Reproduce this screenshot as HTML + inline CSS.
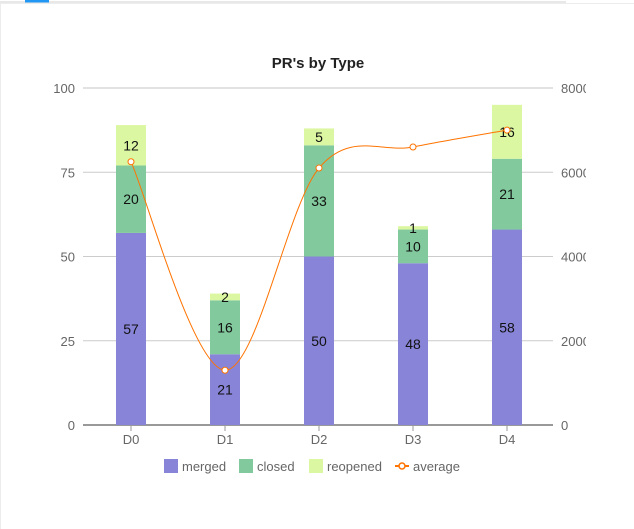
<!DOCTYPE html>
<html><head><meta charset="utf-8"><style>
html,body{margin:0;padding:0;background:#fff;width:634px;height:529px;overflow:hidden}
svg{font-family:"Liberation Sans",Roboto,sans-serif}
</style></head><body>
<svg width="634" height="529" id="c">
<defs><clipPath id="clip"><rect x="0" y="0" width="586" height="529"/></clipPath></defs>
<rect x="0.5" y="3.5" width="640" height="530" fill="#fff" stroke="#ececec"/>
<line x1="0" y1="2" x2="566" y2="2" stroke="#e8e8e8" stroke-width="2"/>
<rect x="25" y="0" width="24" height="2.5" fill="#2196f3"/>
<text x="318" y="68" text-anchor="middle" font-size="15" font-weight="bold" fill="#222">PR's by Type</text>
<g id="grid"></g><g id="bars"></g><g id="line"></g><g id="axes" clip-path="url(#clip)"></g>
<g font-size="13" fill="#666">
<g><rect x="164" y="459" width="14" height="14" fill="#8884d8"/><text x="182" y="471" fill="#666">merged</text></g>
<g><rect x="239" y="459" width="14" height="14" fill="#82ca9d"/><text x="257" y="471" fill="#666">closed</text></g>
<g><rect x="309" y="459" width="14" height="14" fill="#dcf7a1"/><text x="327" y="471" fill="#666">reopened</text></g>
<g><line x1="395" y1="466" x2="409" y2="466" stroke="#ff7300" stroke-width="2"/><circle cx="402" cy="466" r="3" fill="#fff" stroke="#ff7300" stroke-width="1.5"/><text x="413" y="471" fill="#666">average</text></g>
</g>
</svg>
<script>
const categories=["D0","D1","D2","D3","D4"];
const merged=[57,21,50,48,58];
const closed=[20,16,33,10,21];
const reopened=[12,2,5,1,16];
const average=[6250,1300,6100,6600,7000];
const leftTicks=[0,25,50,75,100];
const rightTicks=[0,2000,4000,6000,8000];
const NS="http://www.w3.org/2000/svg";
const x0=83,x1=553,yTop=88,yBot=425;
const band=(x1-x0)/categories.length;
const xS=i=>x0+band*(i+0.5)+1;
const yL=v=>yBot-(v/100)*(yBot-yTop);
const yR=v=>yBot-(v/8000)*(yBot-yTop);
function mk(t,a,p){const e=document.createElementNS(NS,t);for(const k in a)e.setAttribute(k,a[k]);(p||document.getElementById('c')).appendChild(e);return e;}
const grid=document.getElementById('grid'),axes=document.getElementById('axes'),bars=document.getElementById('bars'),lg=document.getElementById('line');
leftTicks.forEach((t,i)=>{
 const g=mk('line',{x1:x0,x2:x1,y1:yL(t),y2:yL(t),stroke:i==0?'#999':(i==4?'#e2e2e2':'#ccc'),'stroke-width':i==0?2:(i==4?2:1)},grid);
 
 
 const l=mk('text',{x:75,y:yL(t)+5,'text-anchor':'end','font-size':13,fill:'#666'},axes);
 l.textContent=t;
 
 
});
rightTicks.forEach(t=>{
 const l=mk('text',{x:561,y:yR(t)+5,'font-size':13,fill:'#666'},axes);
 l.textContent=t;
 
 
});
const bw=30;
categories.forEach((c,i)=>{
 const cx=xS(i);
 const tk=mk('line',{x1:cx,x2:cx,y1:yBot,y2:yBot+6,stroke:'#999'},axes);
 
 
 const l=mk('text',{x:cx,y:yBot+19,'text-anchor':'middle','font-size':13,fill:'#666'},axes);
 l.textContent=c;
 
 
 let base=0;
 [[merged,'#8884d8','merged'],[closed,'#82ca9d','closed'],[reopened,'#dcf7a1','reopened']].forEach(([arr,col,nm])=>{
  const v=arr[i],yt=yL(base+v),yb=yL(base);
  const r=mk('rect',{x:cx-bw/2,y:yt,width:bw,height:yb-yt,fill:col},bars);
  
  
  const t=mk('text',{x:cx,y:(yt+yb)/2+5,'text-anchor':'middle','font-size':14,fill:'#111'},bars);
  t.textContent=v;
  
  
  base+=v;
 });
});
const pts=average.map((v,i)=>[xS(i),yR(v)]);
let d='M'+pts[0][0]+','+pts[0][1];
for(let i=0;i<pts.length-1;i++){
 const p0=pts[Math.max(0,i-1)],p1=pts[i],p2=pts[i+1],p3=pts[Math.min(pts.length-1,i+2)];
 const c1=[p1[0]+(p2[0]-p0[0])/6,p1[1]+(p2[1]-p0[1])/6],c2=[p2[0]-(p3[0]-p1[0])/6,p2[1]-(p3[1]-p1[1])/6];
 d+=` C${c1[0]},${c1[1]} ${c2[0]},${c2[1]} ${p2[0]},${p2[1]}`;
}
const path=mk('path',{d:d,fill:'none',stroke:'#ff7300','stroke-width':1},lg);


pts.forEach((p,i)=>{
 const c=mk('circle',{cx:p[0],cy:p[1],r:3,fill:'#fff',stroke:'#ff7300','stroke-width':1},lg);
 
 
});
</script>
</body></html>
